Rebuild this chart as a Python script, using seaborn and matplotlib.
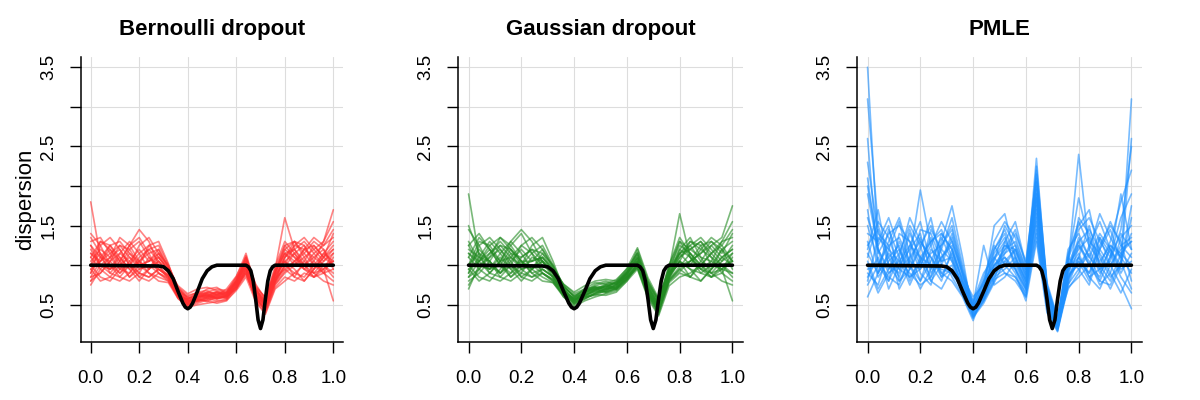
import pandas as pd
import seaborn as sns
import matplotlib.pyplot as plt

grid_x = [0.00, 0.04, 0.08, 0.12, 0.16, 0.20, 0.24, 0.28, 0.32, 0.36, 0.40, 0.44, 0.48,
          0.52, 0.56, 0.60, 0.64, 0.68, 0.72, 0.76, 0.80, 0.84, 0.88, 0.92, 0.96, 1.00]

# true dispersion (black line)
truth_x = [0.00, 0.28, 0.30, 0.32, 0.34, 0.36, 0.38, 0.39, 0.40, 0.41, 0.42, 0.44, 0.46,
           0.48, 0.50, 0.52, 0.64, 0.65, 0.66, 0.67, 0.68, 0.69, 0.70, 0.71, 0.72, 0.73,
           0.74, 0.75, 0.76, 1.00]
truth_y = [1.00, 0.99, 0.98, 0.93, 0.83, 0.67, 0.52, 0.47, 0.45, 0.47, 0.52, 0.67, 0.83,
           0.93, 0.98, 1.00, 1.00, 0.98, 0.93, 0.80, 0.57, 0.31, 0.20, 0.31, 0.57, 0.80,
           0.93, 0.98, 1.00, 1.00]

bernoulli = [
    [1.05, 1.20, 1.10, 0.95, 1.00, 1.15, 1.25, 1.10, 0.95, 0.68, 0.55, 0.60, 0.62, 0.58, 0.60, 0.78, 1.00, 0.62, 0.48, 0.85, 1.10, 1.20, 1.05, 0.95, 1.10, 1.25],
    [0.85, 0.90, 1.05, 1.15, 1.05, 0.90, 0.85, 0.95, 0.88, 0.62, 0.50, 0.55, 0.58, 0.62, 0.64, 0.72, 0.90, 0.58, 0.45, 0.80, 1.00, 0.90, 0.85, 1.00, 1.15, 1.05],
    [1.80, 1.10, 0.95, 1.00, 1.20, 1.30, 1.10, 0.95, 0.85, 0.60, 0.52, 0.58, 0.65, 0.66, 0.60, 0.70, 0.95, 0.66, 0.52, 0.90, 1.25, 1.30, 1.15, 1.00, 0.90, 0.95],
    [1.30, 1.35, 1.15, 0.95, 0.90, 1.05, 1.20, 1.25, 1.00, 0.70, 0.58, 0.62, 0.58, 0.55, 0.57, 0.75, 1.10, 0.70, 0.50, 0.78, 0.95, 1.05, 1.20, 1.25, 1.10, 1.40],
    [0.95, 0.80, 0.85, 1.00, 1.10, 1.00, 0.90, 0.80, 0.78, 0.58, 0.48, 0.52, 0.56, 0.60, 0.62, 0.80, 0.98, 0.55, 0.40, 0.72, 0.85, 0.80, 0.90, 0.85, 0.95, 0.55],
    [1.15, 1.05, 1.25, 1.30, 1.15, 1.00, 1.05, 1.15, 0.92, 0.66, 0.60, 0.66, 0.68, 0.62, 0.58, 0.74, 1.05, 0.68, 0.55, 0.95, 1.60, 1.20, 1.00, 1.10, 1.20, 1.00],
    [1.00, 1.15, 1.00, 0.85, 0.80, 0.90, 1.10, 1.00, 0.86, 0.64, 0.54, 0.56, 0.60, 0.64, 0.66, 0.85, 1.15, 0.72, 0.47, 0.82, 1.05, 1.15, 1.25, 1.05, 0.90, 1.10],
    [0.75, 0.95, 1.10, 1.20, 1.00, 0.85, 0.95, 1.05, 0.90, 0.60, 0.50, 0.60, 0.62, 0.58, 0.62, 0.70, 0.88, 0.60, 0.42, 0.75, 0.90, 1.00, 1.10, 1.20, 1.30, 1.70],
    [1.20, 1.00, 0.90, 1.05, 1.25, 1.45, 1.30, 1.00, 0.82, 0.62, 0.56, 0.58, 0.54, 0.60, 0.65, 0.78, 1.00, 0.64, 0.50, 0.88, 1.15, 1.05, 0.95, 0.90, 1.05, 1.20],
    [0.90, 1.10, 1.25, 1.10, 0.95, 1.05, 0.90, 0.85, 0.80, 0.60, 0.52, 0.62, 0.66, 0.63, 0.60, 0.76, 0.92, 0.56, 0.44, 0.78, 1.00, 1.25, 1.20, 1.10, 1.00, 0.85],
    [1.40, 1.25, 1.00, 0.90, 1.05, 1.20, 1.05, 1.10, 0.94, 0.70, 0.60, 0.56, 0.60, 0.66, 0.63, 0.82, 1.08, 0.70, 0.56, 0.92, 1.20, 1.10, 1.00, 1.15, 1.25, 1.35],
    [1.00, 0.85, 0.80, 0.95, 1.15, 1.05, 1.15, 1.20, 0.96, 0.66, 0.53, 0.60, 0.64, 0.60, 0.58, 0.72, 0.94, 0.60, 0.46, 0.84, 0.95, 0.85, 1.05, 1.25, 1.10, 1.00],
    [1.10, 1.30, 1.20, 1.05, 0.85, 0.95, 1.00, 0.90, 0.84, 0.63, 0.57, 0.64, 0.60, 0.57, 0.61, 0.80, 1.02, 0.66, 0.52, 0.80, 1.10, 1.30, 1.25, 1.00, 0.95, 1.15],
    [0.80, 1.00, 0.95, 1.15, 1.30, 1.15, 0.95, 1.05, 0.90, 0.61, 0.49, 0.54, 0.59, 0.63, 0.66, 0.77, 0.96, 0.62, 0.48, 0.86, 1.05, 0.95, 0.80, 0.95, 1.15, 1.30],
    [1.25, 1.10, 1.05, 0.90, 1.00, 1.25, 1.35, 1.15, 0.98, 0.72, 0.62, 0.65, 0.62, 0.59, 0.60, 0.73, 0.98, 0.68, 0.53, 0.90, 1.15, 1.20, 1.30, 1.15, 1.00, 0.90],
    [0.95, 1.05, 1.15, 1.25, 1.10, 0.95, 1.00, 0.95, 0.87, 0.64, 0.55, 0.57, 0.63, 0.65, 0.62, 0.79, 1.12, 0.74, 0.58, 0.94, 1.25, 1.10, 0.95, 0.85, 1.00, 1.05],
    [1.10, 0.95, 0.85, 0.80, 0.90, 1.10, 1.20, 1.05, 0.92, 0.74, 0.64, 0.70, 0.72, 0.68, 0.66, 0.84, 1.02, 0.64, 0.50, 0.82, 1.10, 1.25, 1.35, 1.20, 1.05, 1.15],
    [0.90, 1.25, 1.35, 1.20, 1.00, 0.85, 0.80, 0.90, 0.82, 0.58, 0.47, 0.50, 0.52, 0.54, 0.56, 0.68, 0.85, 0.54, 0.38, 0.70, 0.80, 0.90, 1.00, 0.90, 0.80, 0.75],
    [1.25, 1.00, 1.10, 1.35, 1.25, 1.05, 0.95, 1.15, 1.00, 0.72, 0.58, 0.60, 0.66, 0.70, 0.68, 0.80, 1.05, 0.72, 0.60, 0.98, 1.30, 1.15, 0.95, 1.05, 1.30, 1.55],
    [0.85, 1.05, 1.20, 1.00, 0.85, 1.00, 1.25, 1.30, 1.02, 0.66, 0.51, 0.56, 0.55, 0.52, 0.55, 0.70, 0.92, 0.58, 0.43, 0.76, 0.92, 1.05, 1.15, 1.30, 1.20, 0.95],
    [1.35, 1.15, 0.90, 0.85, 1.00, 0.90, 0.85, 0.95, 0.86, 0.62, 0.53, 0.62, 0.70, 0.72, 0.64, 0.76, 0.96, 0.62, 0.49, 0.88, 1.05, 0.85, 0.80, 0.95, 1.10, 1.20],
    [1.00, 1.30, 1.25, 1.05, 1.25, 1.35, 1.15, 0.90, 0.80, 0.60, 0.57, 0.66, 0.64, 0.58, 0.62, 0.81, 1.06, 0.70, 0.54, 0.90, 1.20, 1.30, 1.10, 0.90, 0.95, 1.05],
    [0.80, 0.90, 1.05, 1.25, 1.20, 1.00, 1.05, 1.20, 0.97, 0.69, 0.56, 0.54, 0.57, 0.62, 0.70, 0.86, 1.10, 0.76, 0.57, 0.92, 1.15, 1.00, 1.20, 1.35, 1.25, 1.45],
    [1.15, 1.00, 0.95, 1.10, 0.95, 0.80, 0.95, 1.10, 0.93, 0.65, 0.50, 0.59, 0.61, 0.67, 0.63, 0.74, 0.90, 0.59, 0.45, 0.80, 0.98, 1.15, 1.00, 0.85, 0.90, 0.80],
]

gaussian = [
    [1.00, 1.15, 1.05, 0.90, 1.10, 1.25, 1.15, 1.00, 0.90, 0.70, 0.55, 0.66, 0.72, 0.70, 0.75, 0.90, 1.05, 0.70, 0.45, 0.90, 1.15, 1.25, 1.05, 0.95, 1.10, 1.20],
    [1.90, 1.10, 0.95, 1.00, 1.20, 1.05, 0.90, 0.95, 0.85, 0.66, 0.58, 0.62, 0.68, 0.74, 0.78, 0.85, 0.98, 0.62, 0.40, 0.85, 1.05, 0.95, 0.90, 1.00, 1.20, 1.05],
    [0.85, 0.95, 1.15, 1.30, 1.15, 0.95, 0.85, 0.90, 0.80, 0.62, 0.52, 0.60, 0.66, 0.70, 0.72, 0.88, 1.15, 0.74, 0.50, 1.00, 1.30, 1.20, 1.10, 1.05, 0.95, 0.90],
    [1.25, 1.40, 1.20, 1.00, 0.90, 1.00, 1.15, 1.25, 1.00, 0.74, 0.60, 0.70, 0.78, 0.76, 0.70, 0.82, 1.02, 0.66, 0.42, 0.80, 0.95, 1.05, 1.25, 1.30, 1.15, 1.40],
    [0.95, 0.80, 0.90, 1.05, 1.10, 1.00, 0.95, 0.85, 0.78, 0.60, 0.50, 0.58, 0.64, 0.68, 0.74, 0.90, 1.20, 0.80, 0.55, 0.95, 1.65, 1.10, 0.90, 0.85, 0.95, 0.55],
    [1.15, 1.05, 1.25, 1.35, 1.20, 1.05, 1.05, 1.10, 0.92, 0.72, 0.62, 0.68, 0.70, 0.66, 0.72, 0.84, 0.96, 0.60, 0.38, 0.78, 0.90, 0.85, 1.00, 1.15, 1.25, 1.05],
    [1.00, 1.20, 1.05, 0.85, 0.80, 0.90, 1.10, 1.05, 0.88, 0.68, 0.56, 0.64, 0.74, 0.78, 0.76, 0.90, 1.10, 0.72, 0.47, 0.88, 1.10, 1.20, 1.30, 1.10, 0.90, 1.10],
    [0.75, 0.95, 1.10, 1.20, 1.05, 0.85, 0.95, 1.05, 0.90, 0.66, 0.54, 0.62, 0.70, 0.72, 0.80, 0.96, 1.22, 0.84, 0.58, 0.92, 1.00, 1.05, 1.15, 1.25, 1.35, 1.75],
    [1.30, 1.05, 0.90, 1.05, 1.30, 1.45, 1.30, 1.05, 0.84, 0.64, 0.57, 0.66, 0.69, 0.67, 0.71, 0.85, 1.00, 0.64, 0.44, 0.86, 1.20, 1.10, 0.95, 0.90, 1.05, 1.25],
    [0.90, 1.10, 1.30, 1.15, 0.95, 1.05, 0.90, 0.80, 0.78, 0.62, 0.53, 0.58, 0.64, 0.70, 0.75, 0.88, 1.05, 0.68, 0.46, 0.84, 1.05, 1.30, 1.20, 1.10, 1.00, 0.85],
    [1.45, 1.25, 1.00, 0.90, 1.05, 1.20, 1.05, 1.10, 0.96, 0.76, 0.64, 0.70, 0.73, 0.72, 0.77, 0.92, 1.12, 0.76, 0.52, 0.96, 1.25, 1.15, 1.00, 1.15, 1.30, 1.35],
    [1.00, 0.85, 0.80, 0.95, 1.15, 1.10, 1.20, 1.15, 0.94, 0.70, 0.55, 0.63, 0.67, 0.65, 0.70, 0.82, 0.98, 0.62, 0.41, 0.82, 0.95, 0.85, 1.05, 1.25, 1.10, 1.00],
    [1.10, 1.35, 1.20, 1.05, 0.85, 0.95, 1.00, 0.90, 0.82, 0.65, 0.59, 0.65, 0.71, 0.73, 0.69, 0.83, 1.03, 0.70, 0.48, 0.90, 1.15, 1.30, 1.25, 1.00, 0.95, 1.15],
    [0.70, 1.00, 0.95, 1.15, 1.30, 1.15, 0.95, 1.05, 0.90, 0.68, 0.51, 0.57, 0.65, 0.71, 0.79, 0.90, 1.08, 0.73, 0.49, 0.87, 1.05, 0.95, 0.80, 0.95, 1.20, 1.30],
    [1.20, 1.10, 1.05, 0.90, 1.00, 1.25, 1.35, 1.20, 0.98, 0.73, 0.61, 0.67, 0.72, 0.69, 0.73, 0.86, 1.04, 0.66, 0.45, 0.83, 1.15, 1.20, 1.30, 1.15, 1.00, 0.90],
    [0.95, 1.05, 1.15, 1.25, 1.10, 0.95, 1.00, 0.95, 0.86, 0.67, 0.56, 0.61, 0.69, 0.75, 0.78, 0.89, 1.10, 0.78, 0.54, 0.93, 1.30, 1.10, 0.95, 0.85, 1.00, 1.05],
    [1.10, 0.95, 0.85, 0.80, 0.90, 1.10, 1.20, 1.05, 0.92, 0.76, 0.66, 0.74, 0.80, 0.82, 0.80, 0.92, 1.05, 0.66, 0.48, 0.86, 1.10, 1.25, 1.35, 1.20, 1.05, 1.15],
    [0.90, 1.25, 1.35, 1.20, 1.00, 0.85, 0.80, 0.90, 0.82, 0.60, 0.48, 0.55, 0.60, 0.64, 0.68, 0.80, 0.95, 0.58, 0.36, 0.74, 0.85, 0.90, 1.00, 0.90, 0.80, 0.75],
    [1.25, 1.00, 1.10, 1.35, 1.25, 1.05, 0.95, 1.15, 1.00, 0.74, 0.60, 0.64, 0.70, 0.76, 0.82, 0.95, 1.15, 0.76, 0.56, 1.00, 1.35, 1.15, 0.95, 1.05, 1.30, 1.55],
    [0.85, 1.05, 1.20, 1.00, 0.85, 1.00, 1.25, 1.35, 1.05, 0.70, 0.54, 0.60, 0.63, 0.62, 0.66, 0.80, 1.00, 0.64, 0.43, 0.80, 0.92, 1.05, 1.15, 1.30, 1.20, 0.95],
    [1.50, 1.15, 0.90, 0.85, 1.00, 0.90, 0.85, 0.95, 0.86, 0.64, 0.55, 0.66, 0.76, 0.80, 0.76, 0.86, 1.00, 0.64, 0.47, 0.88, 1.05, 0.85, 0.80, 0.95, 1.10, 1.20],
    [1.00, 1.30, 1.25, 1.05, 1.25, 1.40, 1.15, 0.90, 0.80, 0.62, 0.58, 0.70, 0.72, 0.66, 0.70, 0.87, 1.08, 0.72, 0.51, 0.92, 1.20, 1.35, 1.10, 0.90, 0.95, 1.05],
    [0.80, 0.90, 1.05, 1.25, 1.20, 1.00, 1.05, 1.20, 0.97, 0.71, 0.57, 0.60, 0.62, 0.68, 0.76, 0.94, 1.16, 0.80, 0.57, 0.96, 1.15, 1.00, 1.20, 1.35, 1.25, 1.45],
    [1.15, 1.00, 0.95, 1.10, 0.95, 0.80, 0.95, 1.10, 0.93, 0.67, 0.52, 0.61, 0.68, 0.74, 0.72, 0.83, 0.98, 0.62, 0.42, 0.82, 0.98, 1.15, 1.00, 0.85, 0.90, 0.80],
]

pmle = [
    [3.50, 1.20, 0.95, 1.30, 1.00, 0.80, 1.20, 1.05, 1.40, 0.90, 0.45, 0.80, 1.20, 1.40, 0.95, 0.70, 1.80, 0.55, 0.22, 0.90, 1.30, 1.00, 0.85, 1.25, 1.10, 0.90],
    [0.60, 0.90, 1.45, 1.10, 0.75, 1.05, 1.35, 0.90, 1.00, 0.70, 0.40, 0.60, 0.95, 1.05, 1.20, 0.85, 2.35, 0.70, 0.30, 1.10, 0.95, 0.75, 1.20, 1.45, 1.05, 3.10],
    [3.10, 1.50, 1.10, 0.85, 1.25, 1.55, 1.00, 0.80, 1.20, 0.80, 0.55, 0.90, 1.10, 0.90, 0.80, 0.60, 1.50, 0.45, 0.20, 0.75, 1.10, 1.50, 1.00, 0.80, 1.15, 1.30],
    [1.20, 1.70, 1.00, 0.90, 1.40, 1.10, 0.85, 1.30, 1.75, 1.10, 0.35, 0.55, 0.80, 1.30, 1.55, 1.00, 2.05, 0.65, 0.25, 1.00, 2.40, 1.20, 0.90, 1.10, 1.40, 1.20],
    [0.90, 0.75, 1.20, 1.55, 1.00, 0.70, 0.95, 1.40, 1.20, 0.65, 0.50, 1.25, 0.75, 0.85, 1.05, 0.75, 1.60, 0.50, 0.18, 0.85, 1.05, 0.80, 1.35, 1.00, 0.75, 0.45],
    [2.60, 1.00, 0.80, 1.10, 1.60, 1.30, 1.10, 0.90, 0.80, 0.60, 0.30, 0.65, 1.00, 1.20, 1.30, 0.95, 1.90, 0.60, 0.28, 0.70, 0.90, 1.25, 1.55, 1.20, 1.00, 2.60],
    [1.40, 1.30, 1.60, 1.20, 0.85, 0.95, 1.45, 1.20, 1.05, 0.75, 0.45, 0.70, 1.50, 1.65, 1.10, 0.80, 2.20, 0.75, 0.32, 1.20, 1.40, 1.10, 0.95, 0.70, 1.00, 1.60],
    [1.00, 0.65, 0.90, 1.00, 1.20, 1.40, 0.90, 1.10, 1.30, 0.85, 0.60, 0.75, 0.90, 1.10, 0.90, 0.55, 1.30, 0.40, 0.16, 0.80, 1.60, 1.40, 1.00, 1.30, 1.80, 2.20],
    [2.30, 1.40, 1.25, 0.70, 0.95, 1.20, 1.60, 1.00, 0.90, 0.72, 0.38, 0.60, 1.05, 1.50, 1.25, 0.90, 2.00, 0.68, 0.26, 0.95, 1.15, 0.85, 0.70, 1.00, 1.25, 1.10],
    [0.85, 1.10, 0.80, 1.40, 1.30, 0.90, 0.75, 1.25, 1.50, 0.95, 0.50, 0.85, 1.25, 1.00, 0.85, 0.65, 1.70, 0.58, 0.24, 1.05, 1.85, 1.30, 1.15, 0.90, 0.65, 0.95],
    [1.70, 0.90, 1.10, 1.25, 0.80, 1.10, 1.30, 1.45, 1.10, 0.68, 0.42, 0.58, 0.85, 1.15, 1.40, 1.05, 2.10, 0.72, 0.30, 0.88, 1.00, 1.20, 1.65, 1.35, 1.10, 1.40],
    [1.10, 1.55, 1.35, 0.95, 1.10, 1.95, 1.25, 0.85, 0.95, 0.78, 0.48, 0.72, 1.15, 1.35, 1.00, 0.70, 1.40, 0.48, 0.20, 0.78, 1.25, 1.00, 0.80, 1.10, 1.90, 1.20],
    [1.90, 1.20, 0.70, 1.00, 1.45, 1.05, 0.80, 1.00, 1.35, 0.88, 0.36, 0.55, 0.95, 1.25, 1.15, 0.80, 1.85, 0.62, 0.27, 1.15, 1.50, 1.70, 1.10, 0.85, 1.00, 1.75],
    [0.75, 1.00, 1.30, 1.60, 1.15, 0.80, 1.05, 1.35, 1.05, 0.70, 0.52, 0.78, 1.30, 1.55, 1.35, 0.95, 1.55, 0.52, 0.22, 0.82, 1.05, 0.90, 1.25, 1.50, 1.30, 0.80],
    [1.30, 0.85, 1.05, 1.20, 0.95, 1.25, 1.50, 1.15, 0.85, 0.62, 0.33, 0.62, 1.00, 1.10, 0.95, 0.62, 2.25, 0.78, 0.34, 1.00, 1.20, 1.35, 0.95, 1.05, 1.45, 2.50],
    [2.00, 1.25, 1.50, 0.80, 1.05, 1.35, 0.95, 1.20, 1.60, 1.00, 0.44, 0.68, 0.88, 1.00, 1.20, 0.88, 1.95, 0.66, 0.25, 0.92, 1.35, 1.10, 1.40, 1.20, 0.95, 1.05],
    [1.50, 1.05, 0.85, 0.75, 1.10, 1.30, 1.10, 0.85, 1.15, 0.82, 0.40, 0.70, 1.20, 1.45, 1.10, 0.75, 1.75, 0.60, 0.23, 0.95, 1.10, 0.90, 1.20, 1.55, 1.25, 1.35],
    [0.80, 1.35, 1.20, 1.05, 0.90, 0.75, 0.85, 1.10, 1.25, 0.76, 0.50, 0.65, 0.85, 0.95, 1.10, 0.80, 1.45, 0.50, 0.20, 0.76, 0.95, 1.15, 0.80, 0.75, 1.05, 0.70],
    [2.10, 1.15, 1.40, 1.50, 1.30, 1.00, 1.25, 1.55, 1.30, 0.90, 0.46, 0.58, 0.92, 1.20, 1.45, 1.00, 2.15, 0.70, 0.28, 1.08, 1.45, 1.60, 1.30, 1.10, 1.60, 1.90],
    [1.05, 0.70, 0.95, 1.15, 1.50, 1.25, 0.80, 0.70, 0.95, 0.66, 0.34, 0.52, 0.78, 1.05, 0.95, 0.68, 1.65, 0.56, 0.21, 0.84, 1.10, 0.85, 0.95, 1.20, 0.90, 1.15],
    [1.25, 1.45, 1.00, 0.80, 0.95, 1.45, 1.40, 1.05, 1.10, 0.74, 0.42, 0.66, 1.10, 1.30, 1.05, 0.72, 1.85, 0.64, 0.26, 0.98, 1.25, 1.05, 0.75, 0.90, 1.35, 1.50],
    [0.95, 1.00, 1.25, 1.35, 1.05, 0.95, 1.15, 1.25, 1.45, 0.92, 0.54, 0.80, 1.00, 1.15, 1.25, 0.92, 2.05, 0.74, 0.31, 1.12, 1.55, 1.25, 1.05, 1.25, 1.15, 1.00],
    [1.60, 1.20, 0.90, 1.05, 1.25, 1.10, 1.00, 0.95, 0.90, 0.68, 0.37, 0.56, 0.82, 0.90, 0.85, 0.60, 1.35, 0.46, 0.17, 0.72, 0.85, 1.00, 1.35, 1.15, 0.85, 0.65],
    [1.15, 0.90, 1.15, 0.95, 0.85, 1.05, 1.30, 1.40, 1.20, 0.80, 0.47, 0.74, 1.08, 1.25, 1.20, 0.84, 1.90, 0.68, 0.29, 1.02, 1.30, 1.45, 1.20, 1.00, 1.20, 1.30],
]

titles = ["Bernoulli dropout", "Gaussian dropout", "PMLE"]
colores = ["#FF3030", "#228B22", "#1E90FF"]
paneles = [bernoulli, gaussian, pmle]

# posiciones de los ejes en pixeles (figura 1200x400)
cajas = [(81, 262), (458, 285), (857, 285)]

sns.set_style("white", rc={"text.color": "black", "axes.labelcolor": "black",
                           "xtick.color": "black", "ytick.color": "black"})
plt.rcParams['font.family'] = ['Liberation Sans', 'DejaVu Sans']

fig = plt.figure(figsize=(12, 4), dpi=100)

for i in range(3):
    izq, ancho = cajas[i]
    ax = fig.add_axes([izq / 1200, 58 / 400, ancho / 1200, 285 / 400])

    filas = []
    for j, curva in enumerate(paneles[i]):
        for x, y in zip(grid_x, curva):
            filas.append({"x": x, "dispersion": y, "run": j})
    df = pd.DataFrame(filas)

    ax.grid(True, color="#DDDDDD", lw=0.8)
    ax.set_axisbelow(True)
    sns.lineplot(data=df, x="x", y="dispersion", units="run", estimator=None,
                 color=colores[i], lw=1.2, alpha=0.6, ax=ax)
    sns.lineplot(x=truth_x, y=truth_y, color="black", lw=2.6, ax=ax)

    ax.set_xlim(-0.04, 1.04)
    ax.set_ylim(0.03, 3.63)
    ax.set_xticks([0, 0.2, 0.4, 0.6, 0.8, 1.0])
    ax.set_xticklabels(["0.0", "0.2", "0.4", "0.6", "0.8", "1.0"])
    ax.set_yticks([0.5, 1.0, 1.5, 2.0, 2.5, 3.0, 3.5])
    ax.set_yticklabels(["0.5", "", "1.5", "", "2.5", "", "3.5"], rotation=90, va="center")
    ax.tick_params(axis="x", direction="out", length=8, width=1, labelsize=13.5, pad=12, bottom=True)
    ax.tick_params(axis="y", direction="out", length=8, width=1, labelsize=13.5, pad=9, left=True)

    for lado in ["top", "right"]:
        ax.spines[lado].set_visible(False)
    for lado in ["left", "bottom"]:
        ax.spines[lado].set_color("black")
        ax.spines[lado].set_linewidth(1.1)

    ax.set_title(titles[i], fontsize=16, fontweight="bold", pad=16)
    ax.set_xlabel("")
    if i == 0:
        ax.set_ylabel("dispersion", fontsize=16, labelpad=3)
    else:
        ax.set_ylabel("")

fig.savefig("out.png", dpi=100)
